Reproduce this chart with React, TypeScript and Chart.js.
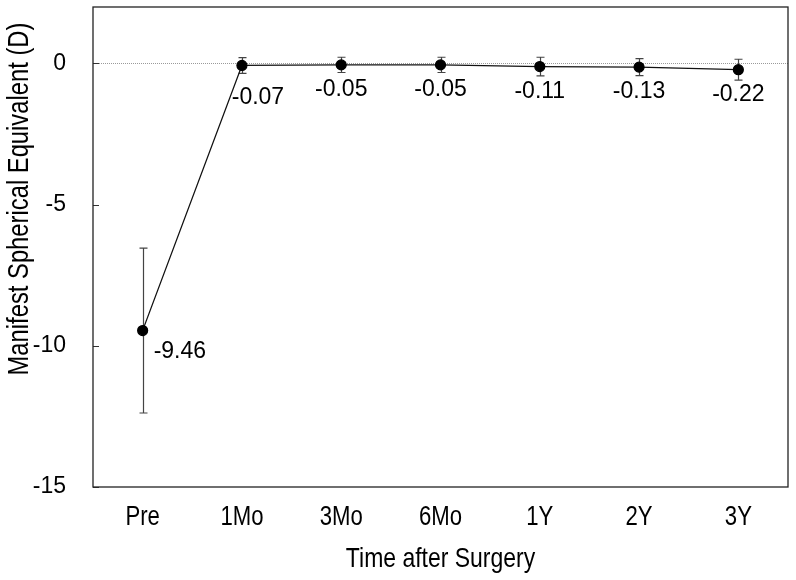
import React, { useEffect, useRef } from "react";
import { Chart, registerables } from "chart.js";

Chart.register(...registerables);

const categories = ["Pre", "1Mo", "3Mo", "6Mo", "1Y", "2Y", "3Y"];
const meanValues = [-9.46, -0.07, -0.05, -0.05, -0.11, -0.13, -0.22];
const sdValues = [2.92, 0.28, 0.27, 0.27, 0.33, 0.3, 0.37];
const valueLabels = ["-9.46", "-0.07", "-0.05", "-0.05", "-0.11", "-0.13", "-0.22"];
const yTickValues = [-15, -10, -5, 0];
const xTitle = "Time after Surgery";
const yTitle = "Manifest Spherical Equivalent (D)";

const FONT = "'Liberation Sans', Arial, sans-serif";
const NARROW = 0.82;

function narrowText(ctx: any, text: string, x: number, y: number, rot: number) {
  ctx.save();
  ctx.translate(x, y);
  ctx.rotate(rot);
  ctx.scale(NARROW, 1);
  ctx.fillText(text, 0, 0);
  ctx.restore();
}

const decorPlugin = {
  id: "decor",
  beforeDatasetsDraw(chart: any) {
    const { ctx, chartArea, scales } = chart;
    const y = scales.y;
    ctx.save();
    const y0 = Math.round(y.getPixelForValue(0)) + 0.5;
    ctx.strokeStyle = "#9a9a9a";
    ctx.lineWidth = 1;
    ctx.setLineDash([1, 1]);
    ctx.beginPath();
    ctx.moveTo(chartArea.left, y0);
    ctx.lineTo(chartArea.right, y0);
    ctx.stroke();
    ctx.setLineDash([]);
    ctx.strokeStyle = "#333";
    yTickValues.forEach((v) => {
      const py = Math.round(y.getPixelForValue(v)) + 0.5;
      ctx.beginPath();
      ctx.moveTo(chartArea.left, py);
      ctx.lineTo(chartArea.left + 6, py);
      ctx.stroke();
    });
    const meta = chart.getDatasetMeta(0);
    ctx.strokeStyle = "#444";
    ctx.lineWidth = 1.2;
    meta.data.forEach((pt: any, i: number) => {
      const x = Math.round(pt.x) + 0.5;
      const top = y.getPixelForValue(meanValues[i] + sdValues[i]);
      const bot = y.getPixelForValue(meanValues[i] - sdValues[i]);
      ctx.beginPath();
      ctx.moveTo(x, top);
      ctx.lineTo(x, bot);
      ctx.moveTo(x - 4, top);
      ctx.lineTo(x + 4, top);
      ctx.moveTo(x - 4, bot);
      ctx.lineTo(x + 4, bot);
      ctx.stroke();
    });
    ctx.strokeStyle = "#222";
    ctx.lineWidth = 1.3;
    ctx.strokeRect(
      chartArea.left,
      chartArea.top,
      chartArea.right - chartArea.left,
      chartArea.bottom - chartArea.top
    );
    ctx.restore();
  },
  afterDatasetsDraw(chart: any) {
    const { ctx, chartArea, scales } = chart;
    const meta = chart.getDatasetMeta(0);
    ctx.save();
    ctx.fillStyle = "#000";
    ctx.font = `23px ${FONT}`;
    ctx.textBaseline = "middle";
    meta.data.forEach((pt: any, i: number) => {
      if (i === 0) {
        ctx.textAlign = "left";
        ctx.fillText(valueLabels[i], pt.x + 11, pt.y + 21);
      } else if (i === 1) {
        ctx.textAlign = "center";
        ctx.fillText(valueLabels[i], pt.x + 16, pt.y + 32);
      } else {
        ctx.textAlign = "center";
        ctx.fillText(valueLabels[i], pt.x, pt.y + 25);
      }
    });
    // x tick labels (narrow)
    ctx.textBaseline = "alphabetic";
    ctx.textAlign = "center";
    ctx.font = `27px ${FONT}`;
    categories.forEach((c, i) => {
      narrowText(ctx, c, scales.x.getPixelForValue(i), chartArea.bottom + 38, 0);
    });
    // x title
    ctx.font = `28px ${FONT}`;
    narrowText(ctx, xTitle, (chartArea.left + chartArea.right) / 2, chartArea.bottom + 80, 0);
    // y title
    ctx.font = `29px ${FONT}`;
    narrowText(ctx, yTitle, 28, scales.y.getPixelForValue(-4.8), -Math.PI / 2);
    ctx.restore();
  },
};

export default function App() {
  const ref = useRef<HTMLCanvasElement>(null);
  useEffect(() => {
    document.body.style.margin = "0";
    const chart = new Chart(ref.current!, {
      type: "line",
      data: {
        labels: categories,
        datasets: [
          {
            data: meanValues,
            borderColor: "#111",
            borderWidth: 1.2,
            pointRadius: 5,
            pointBackgroundColor: "#000",
            pointBorderColor: "#000",
            tension: 0,
          },
        ],
      },
      options: {
        animation: false,
        responsive: false,
        layout: { padding: { top: 7, right: 8, left: 0, bottom: 0 } },
        plugins: { legend: { display: false }, tooltip: { enabled: false } },
        scales: {
          x: {
            type: "category",
            offset: true,
            grid: { display: false, drawTicks: false },
            border: { display: false },
            ticks: { display: false },
            title: { display: false },
            afterFit: (s: any) => {
              s.height = 93;
              s.paddingLeft = 0;
              s.paddingRight = 0;
            },
          },
          y: {
            min: -15,
            max: 2,
            grid: { display: false, drawTicks: false },
            border: { display: false },
            afterBuildTicks: (s: any) => {
              s.ticks = yTickValues.map((v) => ({ value: v }));
            },
            ticks: {
              color: "#000",
              font: { family: FONT, size: 23 },
              padding: 27,
            },
            title: { display: false },
            afterFit: (s: any) => {
              s.width = 93;
              s.paddingTop = 0;
              s.paddingBottom = 0;
            },
          },
        },
      },
      plugins: [decorPlugin],
    } as any);
    return () => chart.destroy();
  }, []);
  return (
    <div style={{ width: 796, height: 580, position: "relative", background: "#fff" }}>
      <canvas ref={ref} width={796} height={580} />
    </div>
  );
}
